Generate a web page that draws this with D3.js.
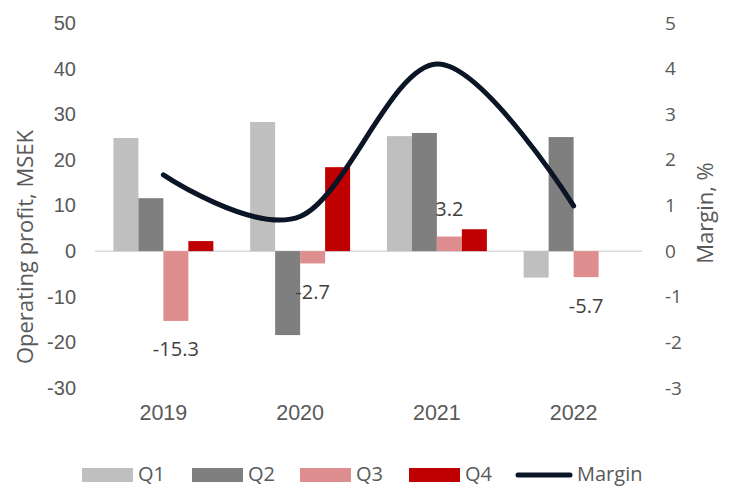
<!DOCTYPE html>
<html>
<head>
<meta charset="utf-8">
<script src="https://cdn.jsdelivr.net/npm/d3@7"></script>
<style>
  html, body { margin: 0; padding: 0; background: #fff; }
  svg { display: block; }
</style>
</head>
<body>
<svg id="chart" width="729" height="486"></svg>
<script>
// ---- data ----
const years = ["2019", "2020", "2021", "2022"];
const quarters = ["Q1", "Q2", "Q3", "Q4"];
const q1 = [24.8, 28.3, 25.2, -5.8];
const q2 = [11.6, -18.4, 25.9, 25.0];
const q3 = [-15.3, -2.7, 3.2, -5.7];
const q4 = [2.2, 18.4, 4.8, null];
const margin = [1.67, 0.76, 4.1, 0.99];
const leftTicks = [-30, -20, -10, 0, 10, 20, 30, 40, 50];
const rightTicks = [-3, -2, -1, 0, 1, 2, 3, 4, 5];
const seriesNames = ["Q1", "Q2", "Q3", "Q4", "Margin"];

const series = [q1, q2, q3, q4];
const colors = ["#BFBFBF", "#7F7F7F", "#DF8E8F", "#C00000"];
const lineColor = "#0A1526";
const textColor = "#595959";
const hyphenFmt = d => String(d);

const svg = d3.select("#chart");

const plotTop = 23, plotBottom = 388, plotLeft = 95, plotRight = 642;

const yL = d3.scaleLinear().domain([-30, 50]).range([plotBottom, plotTop]);
const yR = d3.scaleLinear().domain([-3, 5]).range([plotBottom, plotTop]);
const x0 = d3.scaleBand().domain(years).range([plotLeft, plotRight]).padding(0);
const bw = x0.bandwidth();
const groupW = bw * 0.731;
const x1 = d3.scaleBand().domain(quarters).range([(bw - groupW) / 2, (bw + groupW) / 2]).padding(0);

// zero line
svg.append("line")
  .attr("x1", plotLeft).attr("x2", plotRight)
  .attr("y1", yL(0)).attr("y2", yL(0))
  .attr("stroke", "#D9D9D9").attr("stroke-width", 1.5);

// bars
const rows = [];
years.forEach((yr, i) => {
  quarters.forEach((q, j) => {
    const v = series[j][i];
    if (v !== null && v !== undefined) rows.push({ yr, q, v, j });
  });
});

svg.append("g").selectAll("rect").data(rows).enter().append("rect")
  .attr("x", d => x0(d.yr) + x1(d.q))
  .attr("width", x1.bandwidth())
  .attr("y", d => Math.min(yL(d.v), yL(0)))
  .attr("height", d => Math.abs(yL(d.v) - yL(0)))
  .attr("fill", d => colors[d.j]);

// data labels (Q3)
svg.append("g").selectAll("text").data(years.map((yr, i) => ({ yr, v: q3[i] }))).enter().append("text")
  .attr("x", d => x0(d.yr) + x1("Q3") + x1.bandwidth() / 2)
  .attr("y", d => d.v < 0 ? yL(d.v) + 28 : yL(d.v) - 28)
  .attr("text-anchor", "middle")
  .attr("dominant-baseline", "central")
  .attr("font-family", "'Open Sans', sans-serif")
  .attr("font-size", 20)
  .attr("fill", "#404040")
  .text(d => d.v.toFixed(1));

// margin line
const line = d3.line()
  .x((d, i) => x0(years[i]) + bw / 2)
  .y(d => yR(d))
  .curve(d3.curveCardinal.tension(0));

svg.append("path")
  .datum(margin)
  .attr("d", line)
  .attr("fill", "none")
  .attr("stroke", lineColor)
  .attr("stroke-width", 5)
  .attr("stroke-linecap", "round");

// left axis
const axL = svg.append("g").attr("transform", `translate(80,0)`)
  .call(d3.axisLeft(yL).tickValues(leftTicks).tickSize(0).tickPadding(4).tickFormat(hyphenFmt));
axL.select(".domain").remove();
axL.selectAll("text").attr("font-family", "'Liberation Sans', Arial, sans-serif").attr("font-size", 20).attr("fill", textColor);

// right axis
const axR = svg.append("g").attr("transform", `translate(661,0)`)
  .call(d3.axisRight(yR).tickValues(rightTicks).tickSize(0).tickPadding(4).tickFormat(hyphenFmt));
axR.select(".domain").remove();
axR.selectAll("text").attr("font-family", "'Open Sans', sans-serif").attr("font-size", 19).attr("fill", textColor);

// bottom axis (year labels)
const axB = svg.append("g").attr("transform", `translate(0,405)`)
  .call(d3.axisBottom(x0).tickSize(0).tickPadding(0));
axB.select(".domain").remove();
axB.selectAll("text").attr("font-family", "'Liberation Sans', Arial, sans-serif").attr("font-size", 21.5).attr("fill", textColor);

// axis titles
svg.append("text")
  .attr("transform", `translate(24,247) rotate(-90)`)
  .attr("text-anchor", "middle").attr("dominant-baseline", "central")
  .attr("font-family", "'Open Sans', sans-serif").attr("font-size", 22)
  .attr("fill", textColor)
  .text("Operating profit, MSEK");

svg.append("text")
  .attr("transform", `translate(704,213) rotate(-90)`)
  .attr("text-anchor", "middle").attr("dominant-baseline", "central")
  .attr("font-family", "'Open Sans', sans-serif").attr("font-size", 22)
  .attr("fill", textColor)
  .text("Margin, %");

// legend
const legX = [82, 192, 300, 409];
const leg = svg.append("g");
quarters.forEach((q, j) => {
  leg.append("rect").attr("x", legX[j]).attr("y", 468).attr("width", 51).attr("height", 14).attr("fill", colors[j]);
  leg.append("text").attr("x", legX[j] + 56).attr("y", 481)
    .attr("font-family", "'Open Sans', sans-serif").attr("font-size", 20).attr("fill", textColor)
    .text(seriesNames[j]);
});
leg.append("line").attr("x1", 518).attr("x2", 570).attr("y1", 475).attr("y2", 475)
  .attr("stroke", lineColor).attr("stroke-width", 5).attr("stroke-linecap", "round");
leg.append("text").attr("x", 577).attr("y", 481)
  .attr("font-family", "'Open Sans', sans-serif").attr("font-size", 20).attr("fill", textColor)
  .text(seriesNames[4]);
</script>
</body>
</html>
